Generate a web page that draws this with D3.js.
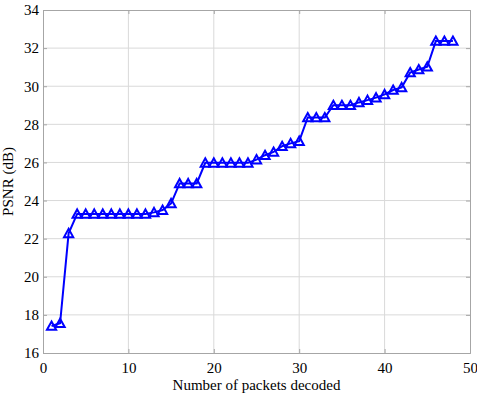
<!DOCTYPE html>
<html>
<head>
<meta charset="utf-8">
<script src="https://cdn.jsdelivr.net/npm/d3@7"></script>
<style>
  body { margin: 0; background: #fff; }
  svg text { font-family: "Liberation Serif", "Times New Roman", serif; fill: #000; }
</style>
</head>
<body>
<div class="content"></div>
<script>
// packets decoded vs PSNR
var packets = [];
for (var i = 1; i <= 48; i++) packets.push(i);
var psnr = [
    17.42, 17.56, 22.28, 23.3, 23.3, 23.3, 23.3, 23.3, 23.3, 23.3,
    23.3, 23.3, 23.38, 23.5, 23.85, 24.9, 24.9, 24.9, 25.98, 25.98,
    25.98, 25.98, 25.98, 25.98, 26.15, 26.38, 26.55, 26.85, 27.0, 27.12,
    28.36, 28.36, 28.36, 29.0, 29.0, 29.0, 29.15, 29.27, 29.4, 29.57,
    29.8, 29.94, 30.72, 30.88, 31.02, 32.37, 32.37, 32.37
];
var xTicks = [0, 10, 20, 30, 40, 50];
var yTicks = [16, 18, 20, 22, 24, 26, 28, 30, 32, 34];

var chart = {
    width: 477,
    height: 395,
    margin: {left: 43, right: 7, top: 10, bottom: 42},
    stroke: '#0000ff',
    gridColor: '#d9d9d9',
    boxColor: '#a6a6a6',
    font: '"Liberation Serif", "Times New Roman", serif'
};

var svg = d3.select('.content').append('svg')
    .attr('width', chart.width)
    .attr('height', chart.height);

var x = d3.scaleLinear().domain([0, 50])
    .range([chart.margin.left, chart.width - chart.margin.right]);
var y = d3.scaleLinear().domain([16, 34])
    .range([chart.height - chart.margin.bottom, chart.margin.top]);

var x0 = x.range()[0], x1 = x.range()[1];
var y0 = y.range()[0], y1 = y.range()[1];

// grid
svg.append('g').selectAll('line')
    .data(xTicks.slice(1, -1)).enter().append('line')
    .attr('x1', function(d) { return x(d); }).attr('x2', function(d) { return x(d); })
    .attr('y1', y0).attr('y2', y1)
    .style('stroke', chart.gridColor).style('stroke-width', 1);
svg.append('g').selectAll('line')
    .data(yTicks.slice(1, -1)).enter().append('line')
    .attr('y1', function(d) { return y(d); }).attr('y2', function(d) { return y(d); })
    .attr('x1', x0).attr('x2', x1)
    .style('stroke', chart.gridColor).style('stroke-width', 1);

// axes (box with inward ticks on all four sides)
svg.append('g').attr('transform', 'translate(0,' + y0 + ')')
    .call(d3.axisBottom(x).tickValues(xTicks).tickSize(-4).tickPadding(9))
    .attr('font-family', chart.font).attr('font-size', 15);
svg.append('g').attr('transform', 'translate(' + x0 + ',0)')
    .call(d3.axisLeft(y).tickValues(yTicks).tickSize(-4).tickPadding(4))
    .attr('font-family', chart.font).attr('font-size', 15);
svg.append('g').attr('transform', 'translate(0,' + y1 + ')')
    .call(d3.axisTop(x).tickValues(xTicks).tickSize(-4).tickFormat(''));
svg.append('g').attr('transform', 'translate(' + x1 + ',0)')
    .call(d3.axisRight(y).tickValues(yTicks).tickSize(-4).tickFormat(''));

svg.selectAll('.domain, .tick line')
    .style('stroke', chart.boxColor);
svg.selectAll('.tick text')
    .attr('fill', '#000');

// labels
svg.append('text')
    .attr('x', (x0 + x1) / 2).attr('y', chart.height - 5)
    .attr('text-anchor', 'middle')
    .style('font-size', '15px')
    .text('Number of packets decoded');
svg.append('text')
    .attr('transform', 'translate(13,' + ((y0 + y1) / 2) + ') rotate(-90)')
    .attr('text-anchor', 'middle')
    .style('font-size', '15px')
    .text('PSNR (dB)');

// series
var data = packets.map(function(p, i) { return {packets: p, psnr: psnr[i]}; });
var line = d3.line()
    .x(function(d) { return x(d.packets); })
    .y(function(d) { return y(d.psnr); });
svg.append('path')
    .attr('d', line(data))
    .style('fill', 'none')
    .style('stroke', chart.stroke)
    .style('stroke-width', 2);

svg.append('g').selectAll('path')
    .data(data).enter().append('path')
    .attr('transform', function(d) { return 'translate(' + x(d.packets) + ',' + y(d.psnr) + ')'; })
    .attr('d', 'M0,-4.5L4.6,3.8L-4.6,3.8Z')
    .style('fill', 'none')
    .style('stroke', chart.stroke)
    .style('stroke-width', 2);
</script>
</body>
</html>
